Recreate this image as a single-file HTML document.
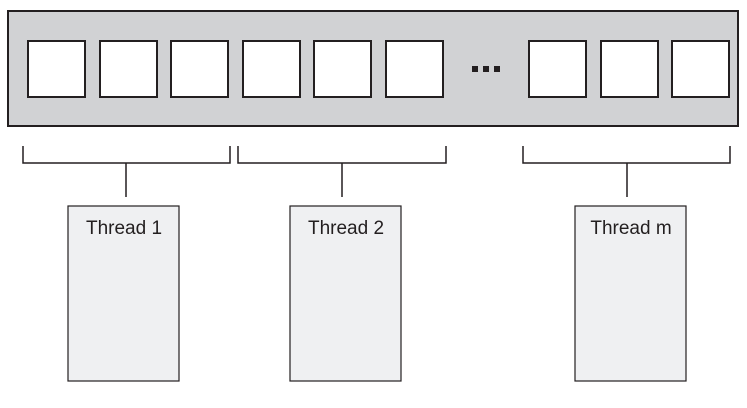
<!DOCTYPE html><html><head><style>body{margin:0;background:#fff}</style></head><body>
<svg width="747" height="403" xmlns="http://www.w3.org/2000/svg" font-family="Liberation Sans, sans-serif">
<rect x="8" y="11" width="730" height="115" fill="#d1d2d4" stroke="#231f20" stroke-width="2"/>
<g fill="#fff" stroke="#231f20" stroke-width="2">
<rect x="28" y="41" width="57" height="56"/><rect x="100" y="41" width="57" height="56"/><rect x="171" y="41" width="57" height="56"/>
<rect x="243" y="41" width="57" height="56"/><rect x="314" y="41" width="57" height="56"/><rect x="386" y="41" width="57" height="56"/>
<rect x="529" y="41" width="57" height="56"/><rect x="601" y="41" width="57" height="56"/><rect x="672" y="41" width="57" height="56"/>
</g>
<g fill="#231f20"><rect x="472" y="66" width="6" height="6"/><rect x="483" y="66" width="6" height="6"/><rect x="494" y="66" width="6" height="6"/></g>
<g fill="none" stroke="#231f20" stroke-width="1.5">
<path d="M23 146V163H230V146M126 163V197"/>
<path d="M238 146V163H446V146M342 163V197"/>
<path d="M523 146V163H730V146M627 163V197"/>
</g>
<g fill="#eff0f2" stroke="#231f20" stroke-width="1.2">
<rect x="68" y="206" width="111" height="175"/><rect x="290" y="206" width="111" height="175"/><rect x="575" y="206" width="111" height="175"/>
</g>
<g font-size="19" fill="#231f20" text-anchor="middle">
<text x="124" y="234">Thread 1</text><text x="346" y="234">Thread 2</text><text x="631" y="234">Thread m</text>
</g>
</svg></body></html>
